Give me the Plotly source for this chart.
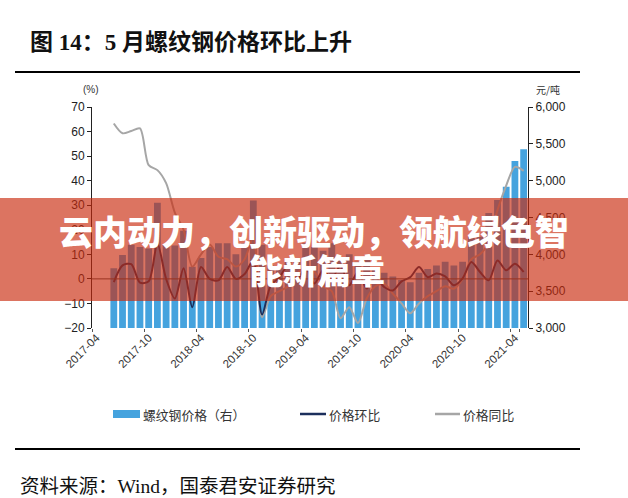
import plotly.graph_objects as go

# ---------------- data ----------------
categories = [f"{y}-{m:02d}" for y in range(2017, 2022) for m in range(1, 13)]
categories = categories[categories.index("2017-04"):categories.index("2021-05") + 1]
data_months = categories[2:]  # 2017-06 .. 2021-05

price = [3810, 3990, 4130, 4100, 4080, 4700, 4130, 4120, 4320, 3830,
         3950, 4100, 4150, 4150, 4000, 4150, 4730, 4130, 3850, 3820,
         3900, 3950, 4150, 4100, 4050, 4150, 3950, 4000, 3900, 3950,
         3800, 3750, 3700, 3650, 3620, 3750, 3800, 3850, 3900, 3850,
         3900, 4240, 4240, 4560, 4737, 4918, 5266, 5425]

mom = [-1.3, 5.5, 6.0, -1.5, -1.0, 14.4, 0.0, -8.0, 4.3, -11.5,
       4.8, 0.0, -0.6, 4.8, 0.0, 2.0, 7.5, -14.5, -2.6, 0.7,
       5.5, -0.6, 4.8, -1.9, 3.5, 0.0, 5.5, -2.6, 2.8, -3.9,
       0.7, -3.3, -4.7, -1.0, 0.7, 4.8, 0.7, 2.2, 1.0, -2.6,
       0.2, 6.9, 2.8, -0.6, 7.5, 3.5, 6.2, 2.8]

yoy = [63.3, 59.3, 60.2, 61.3, 46.3, 44.3, 39.0, 27.0, 20.0, 5.0,
       10.0, 14.0, 9.0, 8.0, 5.0, 8.0, 17.0, -15.6, -7.0, -5.0,
       -3.0, 2.0, 5.0, 3.0, -3.0, -5.0, -16.0, -11.5, -18.0, -8.0,
       -3.0, -2.0, -6.0, -10.0, -14.0, -10.0, -7.0, -5.0, -3.0, -4.0,
       0.0, 8.0, 10.0, 15.0, 28.0, 38.0, 45.6, 44.0]

tick_labels = categories[::6]

title_text = "图 14：5 月螺纹钢价格环比上升"
source_text = "资料来源：Wind，国泰君安证券研究"
banner_line1 = "云内动力，创新驱动，领航绿色智"
banner_line2 = "能新篇章"
legend_names = ["螺纹钢价格（右）", "价格环比", "价格同比"]

# ---------------- geometry helpers (pixel -> paper) ----------------
W, H = 628, 498
L, R, T, B = 92, 528, 107, 328
def px(x):
    return (x - L) / (R - L)
def py(y):
    return (B - y) / (B - T)

BAR_C = "#45A3DE"
MOM_C = "#1C2F5C"
YOY_C = "#A6A6A6"
CJK = "Noto Sans CJK SC"
SERIF = "Liberation Serif, Noto Sans CJK SC"
SANS = "Liberation Sans, Noto Sans CJK SC"

fig = go.Figure()
fig.add_bar(x=data_months, y=price, yaxis="y", marker=dict(color=BAR_C, line=dict(width=0)),
            name=legend_names[0], showlegend=False)
fig.add_scatter(x=data_months, y=yoy, yaxis="y2", mode="lines",
                line=dict(color=YOY_C, width=2, shape="spline", smoothing=0.8),
                name=legend_names[2], showlegend=False)
fig.add_scatter(x=data_months, y=mom, yaxis="y2", mode="lines",
                line=dict(color=MOM_C, width=2, shape="spline", smoothing=0.8),
                name=legend_names[1], showlegend=False)

shapes = []
# zero line
shapes.append(dict(type="line", xref="paper", yref="y2", x0=0, x1=1, y0=0, y1=0,
                   line=dict(color="#404040", width=1), layer="above"))
# title rule and bottom rule
shapes.append(dict(type="line", xref="paper", yref="paper", x0=px(15), x1=px(580),
                   y0=py(72), y1=py(72), line=dict(color="black", width=2)))
shapes.append(dict(type="line", xref="paper", yref="paper", x0=px(15), x1=px(580),
                   y0=py(449), y1=py(449), line=dict(color="black", width=2)))
# legend marks
shapes.append(dict(type="rect", xref="paper", yref="paper", x0=px(113), x1=px(140),
                   y0=py(418), y1=py(410), fillcolor=BAR_C, line=dict(width=0)))
shapes.append(dict(type="line", xref="paper", yref="paper", x0=px(300), x1=px(326),
                   y0=py(414), y1=py(414), line=dict(color=MOM_C, width=2.5)))
shapes.append(dict(type="line", xref="paper", yref="paper", x0=px(435), x1=px(460),
                   y0=py(414), y1=py(414), line=dict(color=YOY_C, width=2.5)))
# banner overlay
shapes.append(dict(type="rect", xref="paper", yref="paper", x0=px(0), x1=px(628),
                   y0=py(301), y1=py(198), fillcolor="rgba(201,42,12,0.65)",
                   line=dict(width=0), layer="above"))

ann = []
ann.append(dict(text=title_text, xref="paper", yref="paper", x=px(28), y=py(43),
                xanchor="left", yanchor="middle", showarrow=False,
                font=dict(family=SERIF, size=23, color="#111", weight="bold")))
ann.append(dict(text="(%)", xref="paper", yref="paper", x=px(91), y=py(89),
                xanchor="center", yanchor="middle", showarrow=False,
                font=dict(family=SANS, size=10, color="#333")))
ann.append(dict(text="元/吨", xref="paper", yref="paper", x=px(548), y=py(89),
                xanchor="center", yanchor="middle", showarrow=False,
                font=dict(family=CJK, size=10, color="#333")))
for x0, t in [(141, legend_names[0]), (327, legend_names[1]), (461, legend_names[2])]:
    ann.append(dict(text=t, xref="paper", yref="paper", x=px(x0), y=py(414),
                    xanchor="left", yanchor="middle", showarrow=False,
                    font=dict(family=CJK, size=12.8, color="#333")))
ann.append(dict(text=source_text, xref="paper", yref="paper", x=px(18), y=py(486),
                xanchor="left", yanchor="middle", showarrow=False,
                font=dict(family=SERIF, size=19.5, color="#111")))
ann.append(dict(text=banner_line1, xref="paper", yref="paper", x=px(314), y=py(230),
                xanchor="center", yanchor="middle", showarrow=False,
                font=dict(family=CJK, size=34, color="white", weight=900)))
ann.append(dict(text=banner_line2, xref="paper", yref="paper", x=px(317), y=py(269),
                xanchor="center", yanchor="middle", showarrow=False,
                font=dict(family=CJK, size=34, color="white", weight=900)))

fig.update_layout(
    width=W, height=H,
    margin=dict(l=L, r=W - R, t=T, b=H - B),
    paper_bgcolor="white", plot_bgcolor="white",
    bargap=0.22, showlegend=False,
    xaxis=dict(type="category", categoryorder="array", categoryarray=categories,
               range=[-0.5, len(categories) - 0.5], tickmode="array",
               tickvals=tick_labels, ticktext=tick_labels, tickangle=-45,
               tickfont=dict(family=SANS, size=11.5, color="#333"),
               showline=False, showgrid=False, ticks="outside", ticklen=3,
               tickson="boundaries", tickcolor="#555"),
    yaxis=dict(side="right", range=[3000, 6000], dtick=500, tickformat=",",
               showline=True, linecolor="#222", linewidth=1, ticks="outside",
               ticklen=4, tickcolor="#222", showgrid=False, zeroline=False,
               tickfont=dict(family=SANS, size=12, color="#222")),
    yaxis2=dict(side="left", overlaying="y", range=[-20, 70], dtick=10,
                showline=True, linecolor="#222", linewidth=1, ticks="outside",
                ticklen=4, tickcolor="#222", showgrid=False, zeroline=False,
                tickfont=dict(family=SANS, size=12, color="#222")),
    shapes=shapes, annotations=ann,
)

fig.write_html("out.html")
